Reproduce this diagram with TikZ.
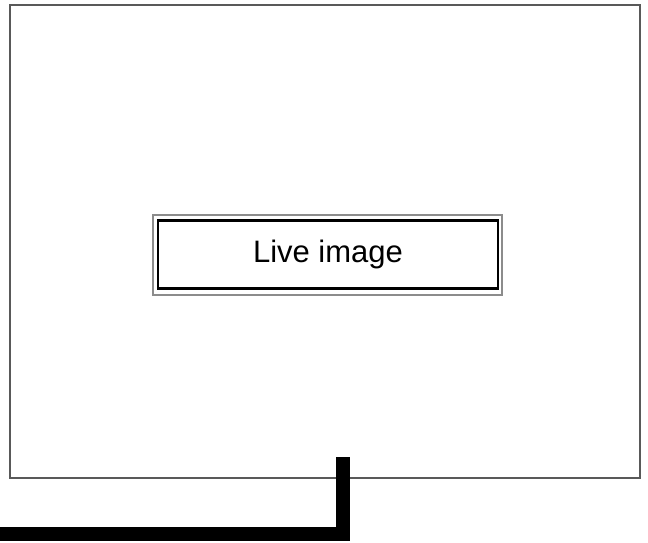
\documentclass[tikz,border=0pt]{standalone}
\usepackage{fontspec}
\setmainfont{Liberation Sans}
\begin{document}
\begin{tikzpicture}[x=1pt,y=-1pt,
  framebox/.style={draw=black!65,line width=2pt},
  outerring/.style={draw=black!45,line width=2.5pt},
  innerring/.style={draw=black,line width=2.2pt},
  cable/.style={draw=black,line width=14pt}]
\useasboundingbox (0,0) rectangle (648,542);
\draw[framebox] (10,5) rectangle (640,478);
\node[outerring,minimum width=349pt,minimum height=80pt,inner sep=0pt] (outer) at (327.5,255) {};
\node[innerring,minimum width=340pt,minimum height=68pt,inner sep=0pt,font=\fontsize{31}{36}\selectfont] (live) at (328,254.5) {Live image};
\coordinate (top) at (342.5,457);
\coordinate (corner) at (342.5,534);
\coordinate (leftend) at (0,534);
\draw[cable] (top) -- (corner) -- (leftend);
\end{tikzpicture}
\end{document}
